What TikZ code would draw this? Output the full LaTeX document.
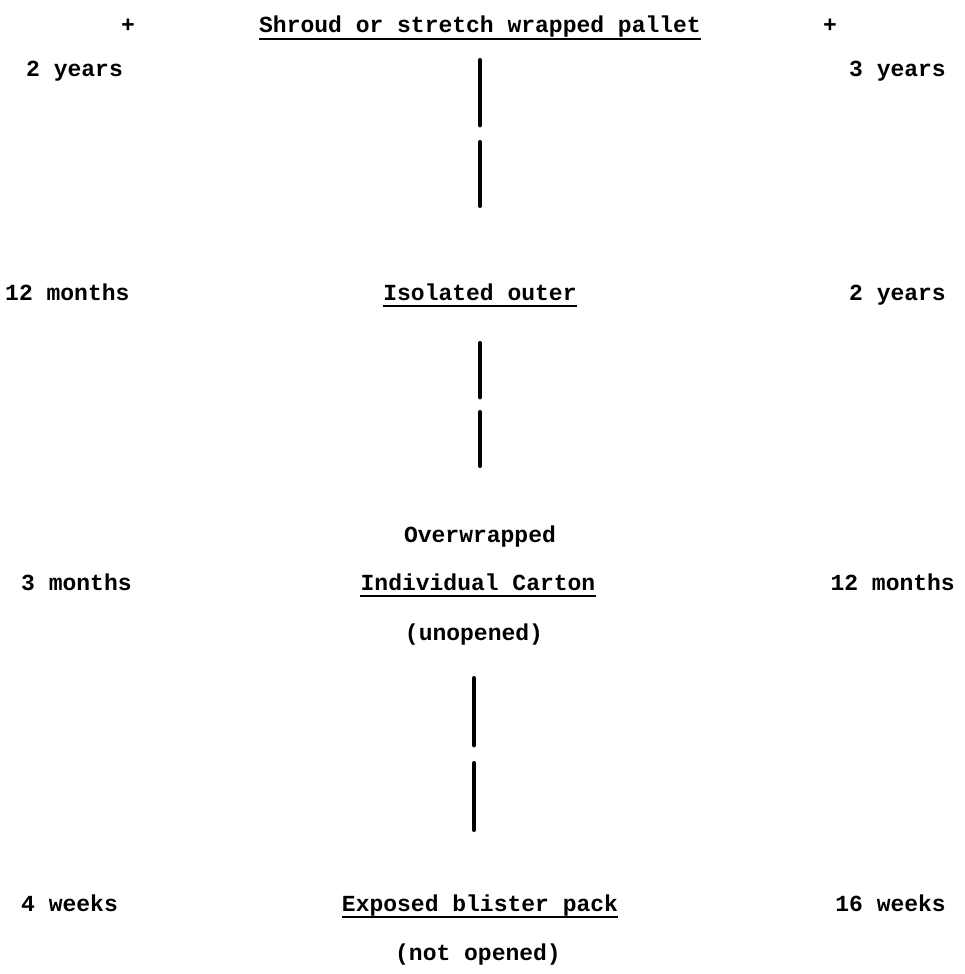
\documentclass[tikz,border=0pt]{standalone}
\usepackage{fontspec}
\newfontfamily\typer{Liberation Mono}
\usepackage{tikz}
\usetikzlibrary{calc}

\tikzset{
  txt/.style={inner sep=0pt,text height=16pt,text depth=5pt,font=\typer\bfseries\fontsize{23}{28}\selectfont},
  uline/.style={line width=2.6pt},
  link/.style={line width=4.5pt,line cap=round}
}

\begin{document}
\begin{tikzpicture}[x=1pt,y=-1pt]
    \useasboundingbox (0,0) rectangle (965,974);
    % top row
    \node[txt,anchor=base] (shroud) at (480,33) {Shroud or stretch wrapped pallet};
    \node[txt,anchor=base] (plusL) at (128,33) {+};
    \node[txt,anchor=base] (plusR) at (830,33) {+};
    \node[txt,anchor=base west] (twoyrL) at (26,77) {2 years};
    \node[txt,anchor=base east] (threeyrR) at (946,77) {3 years};
    % second row
    \node[txt,anchor=base] (outer) at (480,300) {Isolated outer};
    \node[txt,anchor=base west] (twelvemL) at (5,300) {12 months};
    \node[txt,anchor=base east] (twoyrR) at (946,300) {2 years};
    % third row
    \node[txt,anchor=base] (overwrap) at (480,542) {Overwrapped};
    \node[txt,anchor=base] (carton) at (478,590) {Individual Carton};
    \node[txt,anchor=base] (unopened) at (474,640) {(unopened)};
    \node[txt,anchor=base west] (threemL) at (21,590) {3 months};
    \node[txt,anchor=base east] (twelvemR) at (955,590) {12 months};
    % bottom row
    \node[txt,anchor=base] (blister) at (480,911) {Exposed blister pack};
    \node[txt,anchor=base] (notopened) at (478,960) {(not opened)};
    \node[txt,anchor=base west] (fourwL) at (21,911) {4 weeks};
    \node[txt,anchor=base east] (sixteenwR) at (946,911) {16 weeks};
    % underlines
    \draw[uline] ($(shroud.base west)+(0,6)$)--($(shroud.base east)+(0,6)$);
    \draw[uline] ($(outer.base west)+(0,6)$)--($(outer.base east)+(0,6)$);
    \draw[uline] ($(carton.base west)+(0,6)$)--($(carton.base east)+(0,6)$);
    \draw[uline] ($(blister.base west)+(0,6)$)--($(blister.base east)+(0,6)$);
    % links
    \draw[link,dash pattern=on 65pt off 17pt,shorten <=22pt,shorten >=78pt] (shroud.south)--(outer.north);
    \draw[link,dash pattern=on 54pt off 15pt,shorten <=38pt,shorten >=60pt] (outer.south)--(overwrap.north);
    \draw[link,dash pattern=on 67pt off 18pt,shorten <=33pt,shorten >=65pt] (unopened.south)--(unopened.south |- blister.north);
  \end{tikzpicture}
\end{document}
